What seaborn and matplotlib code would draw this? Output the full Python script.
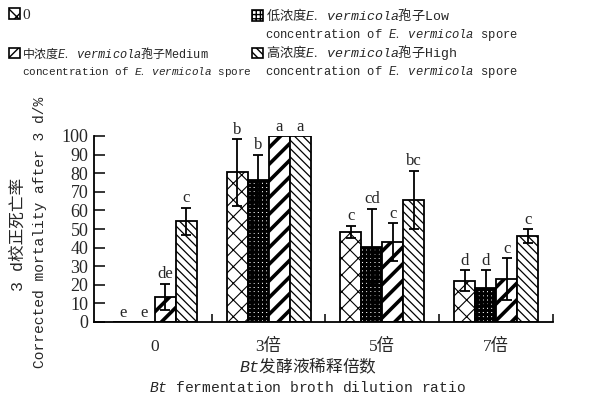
import numpy as np
import pandas as pd
import matplotlib
matplotlib.use("Agg")
import matplotlib.pyplot as plt
import seaborn as sns
from matplotlib.patches import Patch

# ---------------- data ----------------
dilutions = ["0", "3倍", "5倍", "7倍"]
series = ["0", "Low", "Medium", "High"]

control = [0, 80.4, 48.5, 22.2]
control_err = [0, 17.8, 3.2, 5.6]
low = [0, 76.2, 40.5, 18.4]
low_err = [0, 13.6, 20.3, 9.4]
medium = [13.4, 100, 42.8, 23.1]
medium_err = [7.2, 0, 10.2, 11.1]
high = [54.1, 100, 65.6, 46.2]
high_err = [7.2, 0, 15.6, 3.8]

letters_control = ["e", "b", "c", "d"]
letters_low = ["e", "b", "cd", "d"]
letters_medium = ["de", "a", "c", "c"]
letters_high = ["c", "a", "bc", "c"]

yticks = list(range(0, 101, 10))

values = [control, low, medium, high]
errors = [control_err, low_err, medium_err, high_err]
letters = [letters_control, letters_low, letters_medium, letters_high]

rows = []
for s, vals in zip(series, values):
    for d, v in zip(dilutions, vals):
        rows.append({"dilution": d, "series": s, "value": v})
df = pd.DataFrame(rows)

# ---------------- style ----------------
sns.set_theme(style="ticks")
plt.rcParams["font.family"] = ["Liberation Serif", "Noto Sans CJK SC"]
plt.rcParams["mathtext.fontset"] = "custom"
plt.rcParams["mathtext.tt"] = "Liberation Mono"
plt.rcParams["mathtext.it"] = "Liberation Mono:italic"
plt.rcParams["mathtext.rm"] = "Liberation Serif"
plt.rcParams["hatch.linewidth"] = 1.0

fig = plt.figure(figsize=(6.09, 4.03), dpi=100)
ax = fig.add_axes([94 / 609, 1 - 322 / 403, (553 - 94) / 609, (322 - 136) / 403])

sns.barplot(data=df, x="dilution", y="value", hue="series", order=dilutions,
            hue_order=series, palette=["white"] * 4, width=0.74,
            errorbar=None, edgecolor="black", linewidth=1.3, legend=False,
            saturation=1, ax=ax)

hatches = ["xx", "++++", "//", "\\\\\\\\"]
hatch_lw = [0.8, 2.2, 2.6, 0.9]
bar_containers = list(ax.containers)
for i, cont in enumerate(bar_containers):
    patches = list(cont)
    for p in patches:
        p.set_hatch(hatches[i])
        p.set_facecolor("white")
        p.set_edgecolor("black")
        if hasattr(p, "set_hatch_linewidth"):
            p.set_hatch_linewidth(hatch_lw[i])
    xs = np.array([p.get_x() + p.get_width() / 2 for p in patches])
    v = np.array(values[i], dtype=float)
    e = np.array(errors[i], dtype=float)
    m = e > 0
    ax.errorbar(xs[m], v[m], yerr=e[m], fmt="none", ecolor="black",
                elinewidth=1.3, capsize=3.5, capthick=1.3, zorder=5)
    for x, vv, ee, lt in zip(xs, v, e, letters[i]):
        ax.text(x, vv + ee + 0.8, lt, ha="center", va="bottom", fontsize=12,
                family="Liberation Serif", clip_on=False)

ax.set_xlim(-0.535, 3.5)
ax.set_ylim(0, 100)
ax.set_yticks(yticks)
ax.set_yticklabels([str(t) for t in yticks], fontsize=13)
ax.set_xticks(range(len(dilutions)))
ax.set_xticklabels(dilutions, fontsize=12.5,
                   family=["Liberation Serif", "Noto Sans CJK SC"])
ax.set_xticks([0.5, 1.5, 2.5, 3.5], minor=True)
ax.tick_params(axis="x", which="major", length=0, pad=12)
ax.tick_params(axis="x", which="minor", direction="in", length=6, width=1.3)
ax.tick_params(axis="y", direction="in", length=8, width=1.3, pad=4)
for sp in ["top", "right"]:
    ax.spines[sp].set_visible(False)
for sp in ["left", "bottom"]:
    ax.spines[sp].set_linewidth(1.3)
    ax.spines[sp].set_color("black")

ax.set_xlabel("")
ax.set_ylabel("")

# axis titles
fig.text(18 / 609, 1 - 234 / 403, "3 d校正死亡率", rotation=90, ha="center",
         va="center", fontsize=12, family=["Liberation Mono", "Noto Sans CJK SC"])
fig.text(40 / 609, 1 - 232 / 403, "Corrected mortality after 3 d/%", rotation=90,
         ha="center", va="center", fontsize=10.5, family=["Liberation Mono"])
fig.text(308 / 609, 1 - 366 / 403, r"$\mathit{Bt}$发酵液稀释倍数", ha="center",
         va="center", fontsize=12, family=["Noto Sans CJK SC"])
fig.text(307 / 609, 1 - 387 / 403,
         r"$\mathit{Bt}\mathtt{\quad fermentation\quad broth\quad dilution\quad ratio}$",
         ha="center", va="center", fontsize=10.5, family=["Noto Sans CJK SC"])

# legend (one entry per legend box, second line of each label as text)
line2 = r"$\mathtt{concentration\quad of\quad}\mathit{E.\quad vermicola}\mathtt{\quad spore}$"
legend_line1 = {
    0: "0",
    1: r"低浓度$\mathit{E.\quad vermicola}$孢子$\mathtt{Low}$",
    2: r"中浓度$\mathit{E.\quad vermicola}$孢子$\mathtt{Medium}$",
    3: r"高浓度$\mathit{E.\quad vermicola}$孢子$\mathtt{High}$",
}
# (marker-left x, line-1 y, text x, line-2 y, line-1 size, line-2 size)
legend_pos = {
    0: (9, 15, 22, None, 11, 8.7),
    1: (252, 15, 265, 35, 9.5, 8.7),
    2: (9, 53, 22, 72, 8.6, 7.9),
    3: (252, 53, 265, 72, 9.5, 8.7),
}

for i in range(4):
    mx, y1, tx, y2, fs1, fs2 = legend_pos[i]
    h = Patch(facecolor="white", edgecolor="black", hatch=hatches[i], linewidth=1.2)
    if hasattr(h, "set_hatch_linewidth"):
        h.set_hatch_linewidth(min(hatch_lw[i], 1.8))
    lab = legend_line1[i]
    fam = "Liberation Serif" if i == 0 else "Noto Sans CJK SC"
    hpx = fs1 * 100 / 72
    leg = fig.legend([h], [lab], loc="center left",
                     bbox_to_anchor=(mx / 609, 1 - y1 / 403), frameon=False,
                     prop={"family": fam, "size": fs1},
                     handlelength=11 / hpx, handleheight=11 / hpx,
                     handletextpad=2.5 / hpx, borderaxespad=0.0, borderpad=0.0)
    if y2 is not None:
        fig.text(tx / 609, 1 - y2 / 403, line2, ha="left", va="center",
                 fontsize=fs2, family=["Noto Sans CJK SC"])

fig.savefig("out.png", dpi=100)
